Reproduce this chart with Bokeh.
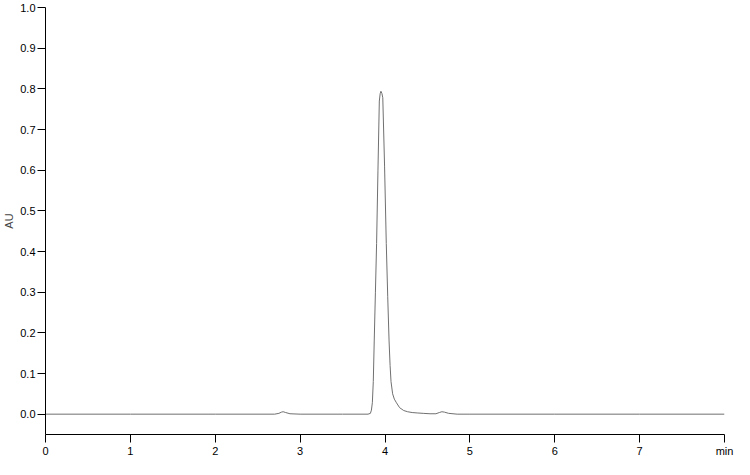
from bokeh.plotting import figure
from bokeh.models import Range1d, FixedTicker, CustomJSTickFormatter
from bokeh.embed import file_html
from bokeh.resources import INLINE

# Chromatogram trace (time in min, absorbance in AU)
time_min = [0.0, 1.0, 2.0, 2.70, 2.75, 2.78, 2.80, 2.83, 2.88, 3.0, 3.5, 3.80, 3.828,
            3.840, 3.851, 3.862, 3.873, 3.887, 3.901, 3.917, 3.933, 3.943, 3.952,
            3.963, 3.974, 3.995, 4.015, 4.032, 4.048, 4.060, 4.071, 4.090, 4.110,
            4.135, 4.172, 4.220, 4.266, 4.320, 4.379, 4.450, 4.530, 4.60, 4.64,
            4.67, 4.70, 4.75, 4.85, 5.0, 6.0, 7.0, 8.0]
absorbance = [0.0, 0.0, 0.0, 0.0, 0.002, 0.005, 0.006, 0.004, 0.001, 0.0, 0.0, 0.0, 0.002,
              0.010, 0.028, 0.080, 0.180, 0.300, 0.420, 0.600, 0.770, 0.788, 0.794,
              0.789, 0.778, 0.610, 0.420, 0.290, 0.180, 0.120, 0.080, 0.050, 0.037,
              0.028, 0.016, 0.009, 0.006, 0.004, 0.003, 0.002, 0.001, 0.001, 0.004,
              0.006, 0.005, 0.002, 0.0, 0.0, 0.0, 0.0, 0.0]

x_ticks = [0, 1, 2, 3, 4, 5, 6, 7, 8]
y_ticks = [0.0, 0.1, 0.2, 0.3, 0.4, 0.5, 0.6, 0.7, 0.8, 0.9, 1.0]
x_unit = "min"
y_unit = "AU"

p = figure(width=734, height=459, output_backend="svg", toolbar_location=None,
           x_range=Range1d(0, 8), y_range=Range1d(-0.05, 1.0))
p.min_border_left = 0
p.min_border_right = 10
p.min_border_top = 7
p.min_border_bottom = 0
p.outline_line_color = None
p.background_fill_color = "white"
p.border_fill_color = "white"
p.xgrid.grid_line_color = None
p.ygrid.grid_line_color = None

p.line(time_min, absorbance, line_color="#707070", line_width=1)

font = "Liberation Sans"
for ax in (p.xaxis[0], p.yaxis[0]):
    ax.axis_line_color = "black"
    ax.axis_line_width = 1
    ax.major_tick_line_color = "black"
    ax.major_tick_in = 0
    ax.major_tick_out = 8
    ax.minor_tick_line_color = None
    ax.major_label_text_font = font
    ax.major_label_text_font_size = "11px"
    ax.major_label_text_color = "black"
    ax.major_label_standoff = 2

p.xaxis[0].ticker = FixedTicker(ticks=x_ticks)
p.xaxis[0].major_label_overrides = {8: x_unit}

p.yaxis[0].ticker = FixedTicker(ticks=y_ticks)
p.yaxis[0].formatter = CustomJSTickFormatter(code="return tick.toFixed(1);")
p.yaxis[0].axis_label = y_unit
p.yaxis[0].axis_label_text_font = font
p.yaxis[0].axis_label_text_font_size = "11px"
p.yaxis[0].axis_label_text_font_style = "normal"
p.yaxis[0].axis_label_standoff = 2

open("out.html", "w").write(file_html(p, INLINE))
